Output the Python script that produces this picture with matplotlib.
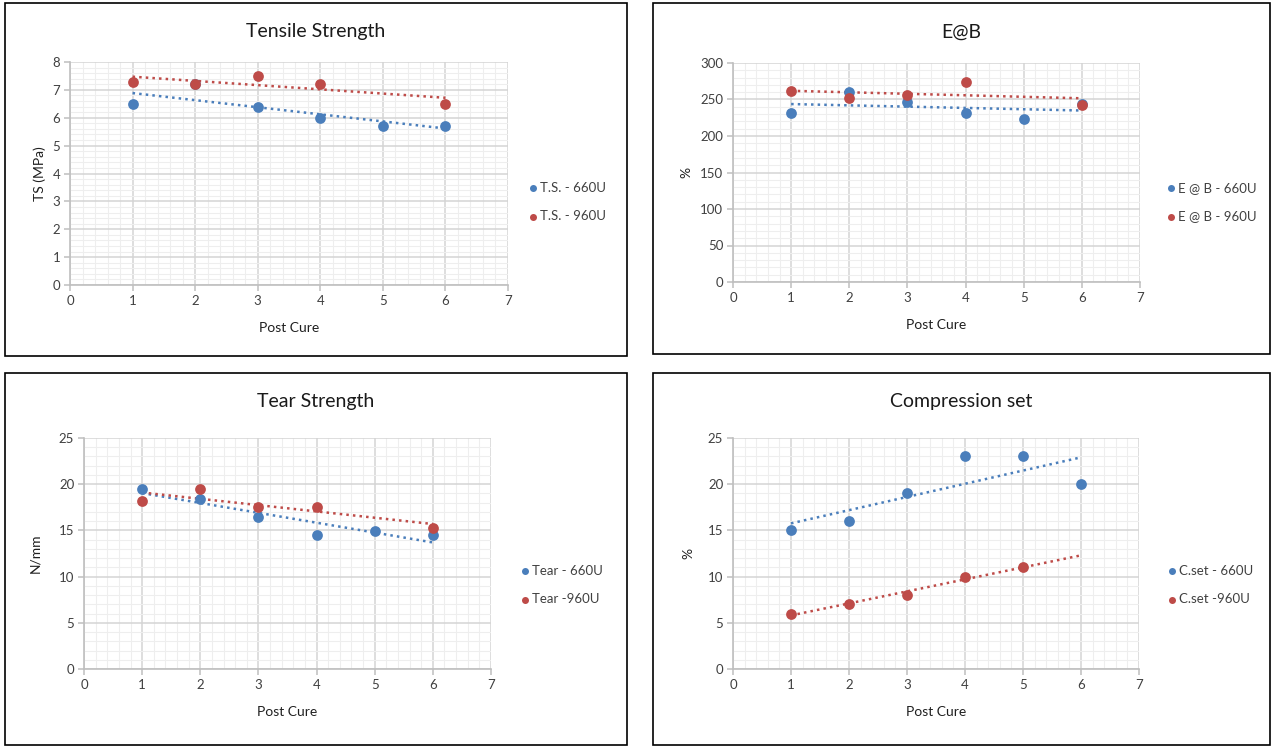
import numpy as np
import matplotlib
matplotlib.use("Agg")
import matplotlib.pyplot as plt
from matplotlib.patches import Rectangle
from matplotlib.ticker import MultipleLocator

plt.rcParams['font.family'] = ['Lato', 'DejaVu Sans']

post_cure = np.array([1, 2, 3, 4, 5, 6])

# values, nan = no point drawn
ts_660 = np.array([6.5, 7.2, 6.4, 6.0, 5.7, 5.7])
ts_960 = np.array([7.3, 7.2, 7.5, 7.2, np.nan, 6.5])
eb_660 = np.array([231, 260, 247, 231, 223, 244])
eb_960 = np.array([262, 252, 256, 274, np.nan, 243])
tear_660 = np.array([19.5, 18.4, 16.4, 14.5, 14.9, 14.5])
tear_960 = np.array([18.2, 19.5, 17.5, 17.5, np.nan, 15.3])
cs_660 = np.array([15, 16, 19, 23, 23, 20])
cs_960 = np.array([6, 7, 8, 10, 11, np.nan])

blue = '#4A7EBB'
red = '#BE4B48'

W, H = 1271, 747
fig = plt.figure(figsize=(W / 100, H / 100), dpi=100)


def px_box(x0, y0, x1, y1):
    return [x0 / W, 1 - y1 / H, (x1 - x0) / W, (y1 - y0) / H]


def panel(frame, area, title, ylabel, ylab_x, ymax, ystep, s1, s2, lab1, lab2, leg_xy):
    fx0, fy0, fx1, fy1 = frame
    fig.patches.append(Rectangle((fx0 / W, 1 - fy1 / H), (fx1 - fx0) / W,
                                 (fy1 - fy0) / H, transform=fig.transFigure,
                                 fill=False, ec='black', lw=1.2))
    ax = fig.add_axes(px_box(*area))
    ax.set_xlim(0, 7)
    ax.set_ylim(0, ymax)
    ax.xaxis.set_major_locator(MultipleLocator(1))
    ax.xaxis.set_minor_locator(MultipleLocator(0.2))
    ax.yaxis.set_major_locator(MultipleLocator(ystep))
    ax.yaxis.set_minor_locator(MultipleLocator(ystep / 5))
    ax.grid(which='major', color='#D4D4D4', lw=1.1)
    ax.grid(which='minor', color='#EEEEEE', lw=0.8)
    ax.set_axisbelow(True)
    for k in ['top', 'right']:
        ax.spines[k].set_visible(False)
    for k in ['left', 'bottom']:
        ax.spines[k].set_color('#BFBFBF')
        ax.spines[k].set_linewidth(1.2)
    ax.tick_params(which='major', length=4, width=1.1, color='#BFBFBF',
                   labelsize=9.5, labelcolor='#404040', pad=3)
    ax.tick_params(which='minor', length=0)

    handles = []
    for ys, col, lab in [(s1, blue, lab1), (s2, red, lab2)]:
        ok = ~np.isnan(ys)
        p = np.polyfit(post_cure[ok], ys[ok], 1)
        xt = np.array([1, 6])
        ax.plot(xt, np.polyval(p, xt), ':', color=col, lw=1.8, zorder=2)
        h = ax.scatter(post_cure[ok], ys[ok], s=60, color=col, zorder=3,
                       linewidths=0, label=lab)
        handles.append(h)

    fig.text((fx0 + fx1) / 2 / W, 1 - (fy0 + 29) / H, title, ha='center',
             va='center', fontsize=14, color='#1A1A1A')
    cx = (area[0] + area[2]) / 2
    fig.text(cx / W, 1 - (area[3] + 43) / H, 'Post Cure', ha='center',
             va='center', fontsize=10, color='#202020')
    fig.text(ylab_x / W, 1 - (area[1] + area[3]) / 2 / H, ylabel,
             ha='center', va='center', rotation=90, fontsize=10, color='#202020')
    fig.legend(handles=handles, loc='upper left',
               bbox_to_anchor=(leg_xy[0] / W, 1 - leg_xy[1] / H),
               frameon=False, fontsize=9.5, handletextpad=0.0,
               labelspacing=1.25, markerscale=0.65, handlelength=1.2,
               borderpad=0, labelcolor='#404040')
    return ax


panel((5, 3, 627, 356), (70, 62, 508, 285), 'Tensile Strength', 'TS (MPa)', 40,
      8, 1, ts_660, ts_960, 'T.S. - 660U', 'T.S. - 960U', (518, 175))
panel((653, 3, 1270, 354), (733, 63, 1140, 282), 'E@B', '%', 686,
      300, 50, eb_660, eb_960, 'E @ B - 660U', 'E @ B - 960U', (1156, 175))
panel((5, 373, 627, 745), (84, 438, 491, 669), 'Tear Strength', 'N/mm', 35,
      25, 5, tear_660, tear_960, 'Tear - 660U', 'Tear -960U', (510, 558))
panel((653, 373, 1270, 745), (733, 438, 1139, 669), 'Compression set', '%', 688,
      25, 5, cs_660, cs_960, 'C.set - 660U', 'C.set -960U', (1157, 558))

fig.savefig('out.png', dpi=100)
